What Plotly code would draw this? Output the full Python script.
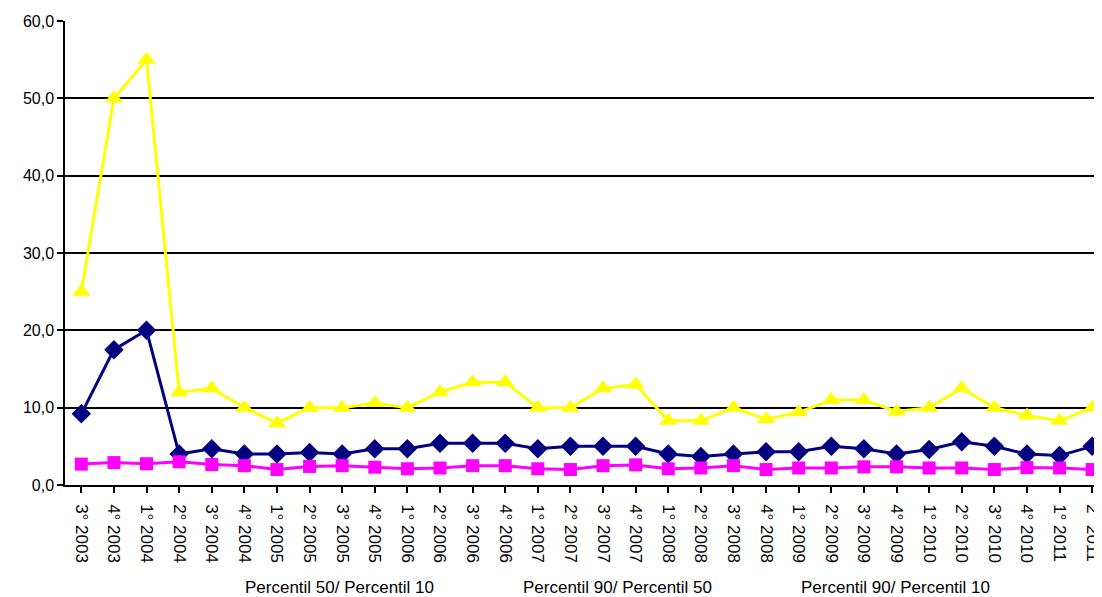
import plotly.graph_objects as go

categories = ["3° 2003", "4° 2003", "1° 2004", "2° 2004", "3° 2004", "4° 2004",
              "1° 2005", "2° 2005", "3° 2005", "4° 2005", "1° 2006", "2° 2006",
              "3° 2006", "4° 2006", "1° 2007", "2° 2007", "3° 2007", "4° 2007",
              "1° 2008", "2° 2008", "3° 2008", "4° 2008", "1° 2009", "2° 2009",
              "3° 2009", "4° 2009", "1° 2010", "2° 2010", "3° 2010", "4° 2010",
              "1° 2011", "2° 2011"]

p50_p10 = [9.2, 17.5, 20.0, 4.0, 4.7, 4.0, 4.0, 4.2, 4.0, 4.7, 4.7, 5.4,
           5.4, 5.4, 4.7, 5.0, 5.0, 5.0, 4.0, 3.7, 4.0, 4.3, 4.3, 5.0,
           4.7, 4.0, 4.6, 5.6, 5.0, 4.0, 3.8, 5.0]
p90_p50 = [2.7, 2.9, 2.75, 3.0, 2.65, 2.5, 2.0, 2.4, 2.5, 2.3, 2.1, 2.2,
           2.5, 2.5, 2.1, 2.0, 2.5, 2.6, 2.1, 2.2, 2.5, 2.0, 2.2, 2.2,
           2.35, 2.35, 2.2, 2.2, 2.0, 2.25, 2.2, 2.0]
p90_p10 = [25.0, 50.0, 55.0, 12.0, 12.5, 10.0, 8.0, 10.0, 10.0, 10.6, 10.0, 12.0,
           13.3, 13.3, 10.0, 10.0, 12.5, 13.0, 8.3, 8.3, 10.0, 8.5, 9.4, 11.0,
           11.0, 9.5, 10.0, 12.5, 10.0, 9.0, 8.3, 10.0]

series_names = ["Percentil 50/ Percentil 10", "Percentil 90/ Percentil 50",
                "Percentil 90/ Percentil 10"]

idx = list(range(len(categories)))

fig = go.Figure()
fig.add_trace(go.Scatter(x=idx, y=p50_p10, mode="lines+markers", name=series_names[0],
                         line=dict(color="#000080", width=3),
                         marker=dict(symbol="diamond", size=15, color="#000080")))
fig.add_trace(go.Scatter(x=idx, y=p90_p50, mode="lines+markers", name=series_names[1],
                         line=dict(color="#FF00FF", width=3),
                         marker=dict(symbol="square", size=13, color="#FF00FF")))
fig.add_trace(go.Scatter(x=idx, y=p90_p10, mode="lines+markers", name=series_names[2],
                         line=dict(color="#FFFF00", width=3),
                         marker=dict(symbol="triangle-up", size=16, color="#FFFF00")))

font = "Liberation Sans, Arial, sans-serif"
# the page body has an 8px default margin, so the figure is offset by 8px
fig.update_layout(
    width=1094, height=589,
    margin=dict(l=57, r=0, t=13, b=112),
    paper_bgcolor="white", plot_bgcolor="white",
    showlegend=False,
    separators=",.",
    font=dict(family=font, size=16, color="black"),
    xaxis=dict(
        tickmode="array", tickvals=idx, ticktext=categories,
        range=[-0.5, 31.21], tickangle=90,
        showgrid=False, zeroline=False,
        showline=True, linecolor="black", linewidth=1.5,
        ticks="outside", ticklen=6, tickcolor="black", tickwidth=1.5,
        tickson="boundaries",
        ticklabeloverflow="allow",
        ticklabelstandoff=8,
        tickfont=dict(family=font, size=17, color="black"),
    ),
    yaxis=dict(
        range=[0, 60], dtick=10, tickformat=".1f",
        showgrid=True, gridcolor="black", gridwidth=1.5,
        zeroline=False,
        showline=True, linecolor="black", linewidth=1.5,
        ticks="outside", ticklen=6, tickcolor="black", tickwidth=1.5,
        tickfont=dict(family=font, size=16, color="black"),
    ),
)

legend_x = [0.265, 0.534, 0.803]
for name, xp in zip(series_names, legend_x):
    fig.add_annotation(text=name, xref="paper", yref="paper", x=xp, y=-0.22,
                       xanchor="center", yanchor="middle", showarrow=False,
                       font=dict(family=font, size=17, color="black"))

fig.write_html("out.html")
